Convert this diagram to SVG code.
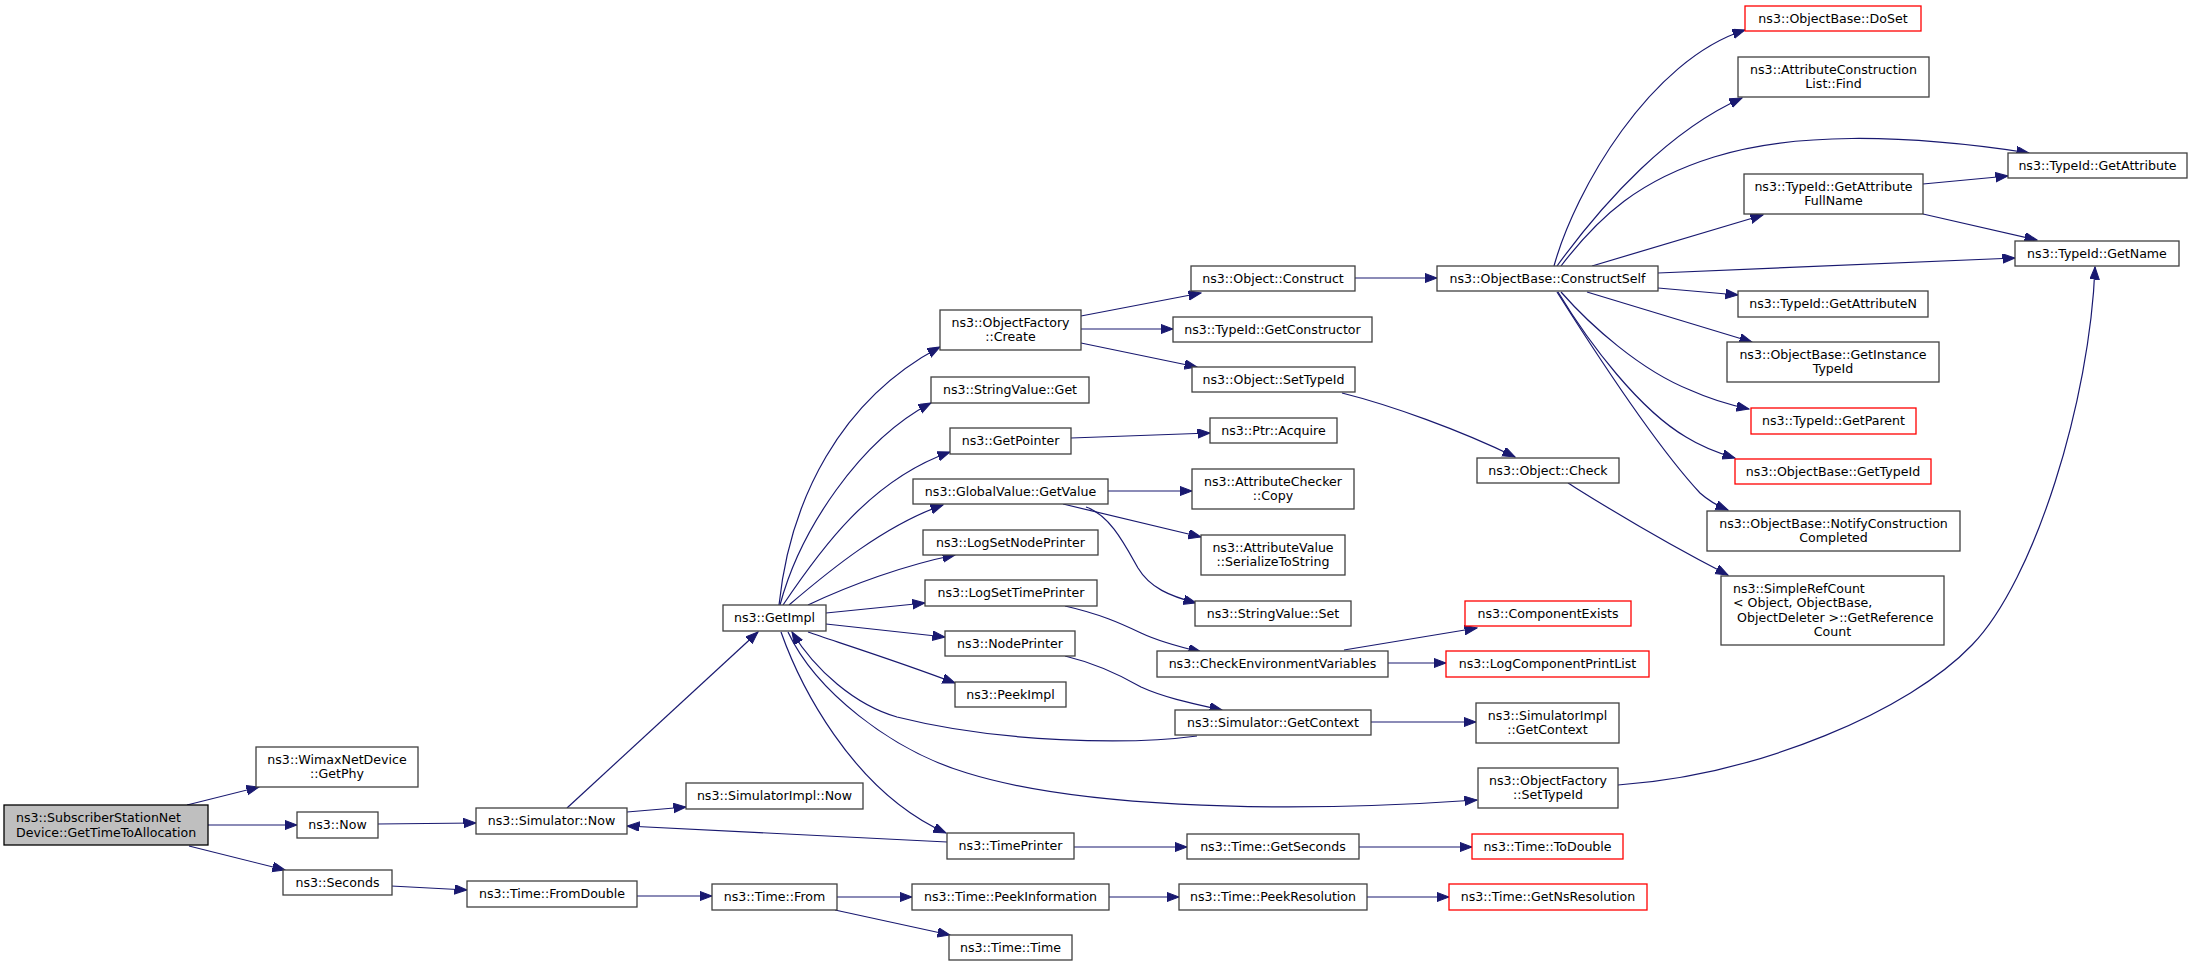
<svg xmlns="http://www.w3.org/2000/svg" width="2192" height="967" viewBox="0 0 2192 967">
<style>
.n rect{fill:#fff;stroke:#404040;stroke-width:1.3}
.n.r rect{stroke:#ff0000}
.n.root rect{fill:#bfbfbf;stroke:#000}
text{font-family:"DejaVu Sans","Liberation Sans",sans-serif;font-size:12.6px;text-anchor:middle;fill:#000}
text.l{text-anchor:start}
#edges path{fill:none;stroke:#191970;stroke-width:1.2;marker-end:url(#a)}
</style>
<defs>
<marker id="a" markerWidth="14" markerHeight="11" refX="12.5" refY="4.75" orient="auto" markerUnits="userSpaceOnUse">
<path d="M0,0 L12.5,4.75 L0,9.5 z" fill="#191970" stroke="#191970" stroke-width="1"/>
</marker>
</defs>
<rect width="2192" height="967" fill="#fff"/>
<g id="edges">
<path d="M187,805 L259,787"/>
<path d="M208,825 L297,825"/>
<path d="M189,846 L285,870"/>
<path d="M377,824 L476,823"/>
<path d="M391,886 L467,890"/>
<path d="M567,808 L758,632"/>
<path d="M627,812 L686,807"/>
<path d="M947,842 L627,826"/>
<path d="M781,632 C798,680 850,790 946,833"/>
<path d="M1197,736 C1130,745 1000,743 897,717 C855,705 815,670 792,632"/>
<path d="M788,632 C815,690 890,750 967,773 C1070,805 1260,815 1477,800"/>
<path d="M779,605 C790,500 840,400 940,347"/>
<path d="M780,605 C800,530 860,440 931,403"/>
<path d="M783,605 C820,550 870,480 950,452"/>
<path d="M789,605 C830,570 885,525 943,505"/>
<path d="M808,605 C850,585 905,565 955,555"/>
<path d="M826,613 L925,603"/>
<path d="M826,624 L945,637"/>
<path d="M808,632 C840,643 900,662 955,683"/>
<path d="M1081,316 L1201,293"/>
<path d="M1081,329 L1173,329"/>
<path d="M1081,343 L1197,367"/>
<path d="M1355,278 L1437,278"/>
<path d="M1342,393 C1390,405 1460,430 1515,457"/>
<path d="M1568,483 C1600,503 1650,535 1728,575"/>
<path d="M1071,438 L1210,433"/>
<path d="M1108,491 L1192,491"/>
<path d="M1063,504 L1201,537"/>
<path d="M1086,507 C1110,515 1125,545 1138,568 C1150,588 1170,596 1196,603"/>
<path d="M1065,606 C1100,614 1120,623 1141,633 C1160,642 1180,647 1201,652"/>
<path d="M1344,650 L1477,628"/>
<path d="M1388,663 L1446,663"/>
<path d="M1065,656 C1090,662 1115,672 1141,687 C1165,698 1195,704 1222,710"/>
<path d="M1371,722 L1476,722"/>
<path d="M1618,785 C1760,775 1910,710 1972,645 C2035,580 2090,400 2095,267"/>
<path d="M1074,847 L1187,847"/>
<path d="M1359,847 L1472,847"/>
<path d="M637,896 L712,896"/>
<path d="M837,897 L912,897"/>
<path d="M835,910 L950,935"/>
<path d="M1109,897 L1179,897"/>
<path d="M1367,897 L1449,897"/>
<path d="M1554,266 C1575,190 1650,60 1745,30"/>
<path d="M1557,266 C1605,200 1670,130 1742,98"/>
<path d="M1561,266 C1600,215 1640,180 1714,157 C1790,133 1900,133 2029,153"/>
<path d="M1592,266 L1763,215"/>
<path d="M1658,273 L2015,258"/>
<path d="M1658,288 L1738,295"/>
<path d="M1923,184 L2008,176"/>
<path d="M1923,214 L2037,240"/>
<path d="M1587,292 L1752,342"/>
<path d="M1561,292 C1590,325 1640,370 1690,390 C1710,399 1730,405 1749,409"/>
<path d="M1558,292 C1590,345 1640,410 1686,437 C1702,447 1718,453 1735,458"/>
<path d="M1557,292 C1600,360 1660,450 1700,493 C1710,502 1718,506 1728,510"/>
</g>
<g id="n0" class="n root"><rect x="4" y="805" width="204" height="40"/><text class="l" x="16" y="821.5">ns3::SubscriberStationNet</text><text class="l" x="16" y="836.5">Device::GetTimeToAllocation</text></g>
<g id="n1" class="n"><rect x="256" y="747" width="162" height="40"/><text x="337" y="763.5">ns3::WimaxNetDevice</text><text x="337" y="778">::GetPhy</text></g>
<g id="n2" class="n"><rect x="297" y="812" width="81" height="26"/><text x="337.5" y="829">ns3::Now</text></g>
<g id="n3" class="n"><rect x="283" y="870" width="109" height="25"/><text x="337.5" y="887">ns3::Seconds</text></g>
<g id="n4" class="n"><rect x="476" y="808" width="151" height="26"/><text x="551.5" y="825">ns3::Simulator::Now</text></g>
<g id="n5" class="n"><rect x="467" y="881" width="170" height="26"/><text x="552" y="898">ns3::Time::FromDouble</text></g>
<g id="n6" class="n"><rect x="723" y="605" width="103" height="26"/><text x="774.5" y="622">ns3::GetImpl</text></g>
<g id="n7" class="n"><rect x="686" y="783" width="177" height="26"/><text x="774.5" y="800">ns3::SimulatorImpl::Now</text></g>
<g id="n8" class="n"><rect x="712" y="884" width="125" height="26"/><text x="774.5" y="901">ns3::Time::From</text></g>
<g id="n9" class="n"><rect x="940" y="310" width="141" height="40"/><text x="1010.5" y="326.5">ns3::ObjectFactory</text><text x="1010.5" y="341">::Create</text></g>
<g id="n10" class="n"><rect x="931" y="377" width="158" height="26"/><text x="1010" y="394">ns3::StringValue::Get</text></g>
<g id="n11" class="n"><rect x="950" y="428" width="121" height="26"/><text x="1010.5" y="445">ns3::GetPointer</text></g>
<g id="n12" class="n"><rect x="913" y="479" width="195" height="25"/><text x="1010.5" y="496">ns3::GlobalValue::GetValue</text></g>
<g id="n13" class="n"><rect x="923" y="530" width="175" height="25"/><text x="1010.5" y="547">ns3::LogSetNodePrinter</text></g>
<g id="n14" class="n"><rect x="925" y="580" width="172" height="26"/><text x="1011" y="597">ns3::LogSetTimePrinter</text></g>
<g id="n15" class="n"><rect x="945" y="631" width="130" height="25"/><text x="1010" y="648">ns3::NodePrinter</text></g>
<g id="n16" class="n"><rect x="955" y="682" width="111" height="25"/><text x="1010.5" y="699">ns3::PeekImpl</text></g>
<g id="n17" class="n"><rect x="947" y="833" width="127" height="26"/><text x="1010.5" y="850">ns3::TimePrinter</text></g>
<g id="n18" class="n"><rect x="912" y="884" width="197" height="26"/><text x="1010.5" y="901">ns3::Time::PeekInformation</text></g>
<g id="n19" class="n"><rect x="949" y="935" width="123" height="25"/><text x="1010.5" y="952">ns3::Time::Time</text></g>
<g id="n20" class="n"><rect x="1191" y="266" width="164" height="25"/><text x="1273" y="283">ns3::Object::Construct</text></g>
<g id="n21" class="n"><rect x="1173" y="317" width="199" height="25"/><text x="1272.5" y="334">ns3::TypeId::GetConstructor</text></g>
<g id="n22" class="n"><rect x="1192" y="367" width="163" height="25"/><text x="1273.5" y="384">ns3::Object::SetTypeId</text></g>
<g id="n23" class="n"><rect x="1210" y="418" width="127" height="25"/><text x="1273.5" y="435">ns3::Ptr::Acquire</text></g>
<g id="n24" class="n"><rect x="1192" y="469" width="162" height="40"/><text x="1273" y="485.5">ns3::AttributeChecker</text><text x="1273" y="500">::Copy</text></g>
<g id="n25" class="n"><rect x="1201" y="535" width="144" height="40"/><text x="1273" y="551.5">ns3::AttributeValue</text><text x="1273" y="566">::SerializeToString</text></g>
<g id="n26" class="n"><rect x="1195" y="601" width="156" height="25"/><text x="1273" y="618">ns3::StringValue::Set</text></g>
<g id="n27" class="n"><rect x="1157" y="651" width="231" height="26"/><text x="1272.5" y="668">ns3::CheckEnvironmentVariables</text></g>
<g id="n28" class="n"><rect x="1175" y="710" width="196" height="25"/><text x="1273" y="727">ns3::Simulator::GetContext</text></g>
<g id="n29" class="n"><rect x="1187" y="834" width="172" height="25"/><text x="1273" y="851">ns3::Time::GetSeconds</text></g>
<g id="n30" class="n"><rect x="1179" y="884" width="188" height="26"/><text x="1273" y="901">ns3::Time::PeekResolution</text></g>
<g id="n31" class="n"><rect x="1437" y="266" width="221" height="25"/><text x="1547.5" y="283">ns3::ObjectBase::ConstructSelf</text></g>
<g id="n32" class="n"><rect x="1477" y="458" width="142" height="25"/><text x="1548" y="475">ns3::Object::Check</text></g>
<g id="n33" class="n r"><rect x="1465" y="601" width="166" height="25"/><text x="1548" y="618">ns3::ComponentExists</text></g>
<g id="n34" class="n r"><rect x="1446" y="651" width="203" height="26"/><text x="1547.5" y="668">ns3::LogComponentPrintList</text></g>
<g id="n35" class="n"><rect x="1476" y="703" width="143" height="40"/><text x="1547.5" y="719.5">ns3::SimulatorImpl</text><text x="1547.5" y="734">::GetContext</text></g>
<g id="n36" class="n"><rect x="1478" y="768" width="140" height="40"/><text x="1548" y="784.5">ns3::ObjectFactory</text><text x="1548" y="799">::SetTypeId</text></g>
<g id="n37" class="n r"><rect x="1472" y="834" width="151" height="25"/><text x="1547.5" y="851">ns3::Time::ToDouble</text></g>
<g id="n38" class="n r"><rect x="1449" y="884" width="198" height="26"/><text x="1548" y="901">ns3::Time::GetNsResolution</text></g>
<g id="n39" class="n r"><rect x="1745" y="6" width="176" height="25"/><text x="1833" y="23">ns3::ObjectBase::DoSet</text></g>
<g id="n40" class="n"><rect x="1738" y="57" width="191" height="40"/><text x="1833.5" y="73.5">ns3::AttributeConstruction</text><text x="1833.5" y="88">List::Find</text></g>
<g id="n41" class="n"><rect x="1744" y="174" width="179" height="40"/><text x="1833.5" y="190.5">ns3::TypeId::GetAttribute</text><text x="1833.5" y="205">FullName</text></g>
<g id="n42" class="n"><rect x="1738" y="291" width="190" height="26"/><text x="1833" y="308">ns3::TypeId::GetAttributeN</text></g>
<g id="n43" class="n"><rect x="1727" y="342" width="212" height="40"/><text x="1833" y="358.5">ns3::ObjectBase::GetInstance</text><text x="1833" y="373">TypeId</text></g>
<g id="n44" class="n r"><rect x="1751" y="408" width="165" height="26"/><text x="1833.5" y="425">ns3::TypeId::GetParent</text></g>
<g id="n45" class="n r"><rect x="1735" y="459" width="196" height="25"/><text x="1833" y="476">ns3::ObjectBase::GetTypeId</text></g>
<g id="n46" class="n"><rect x="1707" y="511" width="253" height="40"/><text x="1833.5" y="527.5">ns3::ObjectBase::NotifyConstruction</text><text x="1833.5" y="542">Completed</text></g>
<g id="n47" class="n"><rect x="1721" y="576" width="223" height="69"/><text class="l" x="1733" y="592.5">ns3::SimpleRefCount</text><text class="l" x="1733" y="607">&lt; Object, ObjectBase,</text><text class="l" x="1737" y="621.5">ObjectDeleter &gt;::GetReference</text><text x="1832.5" y="636">Count</text></g>
<g id="n48" class="n"><rect x="2008" y="153" width="179" height="25"/><text x="2097.5" y="170">ns3::TypeId::GetAttribute</text></g>
<g id="n49" class="n"><rect x="2015" y="241" width="164" height="25"/><text x="2097" y="258">ns3::TypeId::GetName</text></g>
</svg>
